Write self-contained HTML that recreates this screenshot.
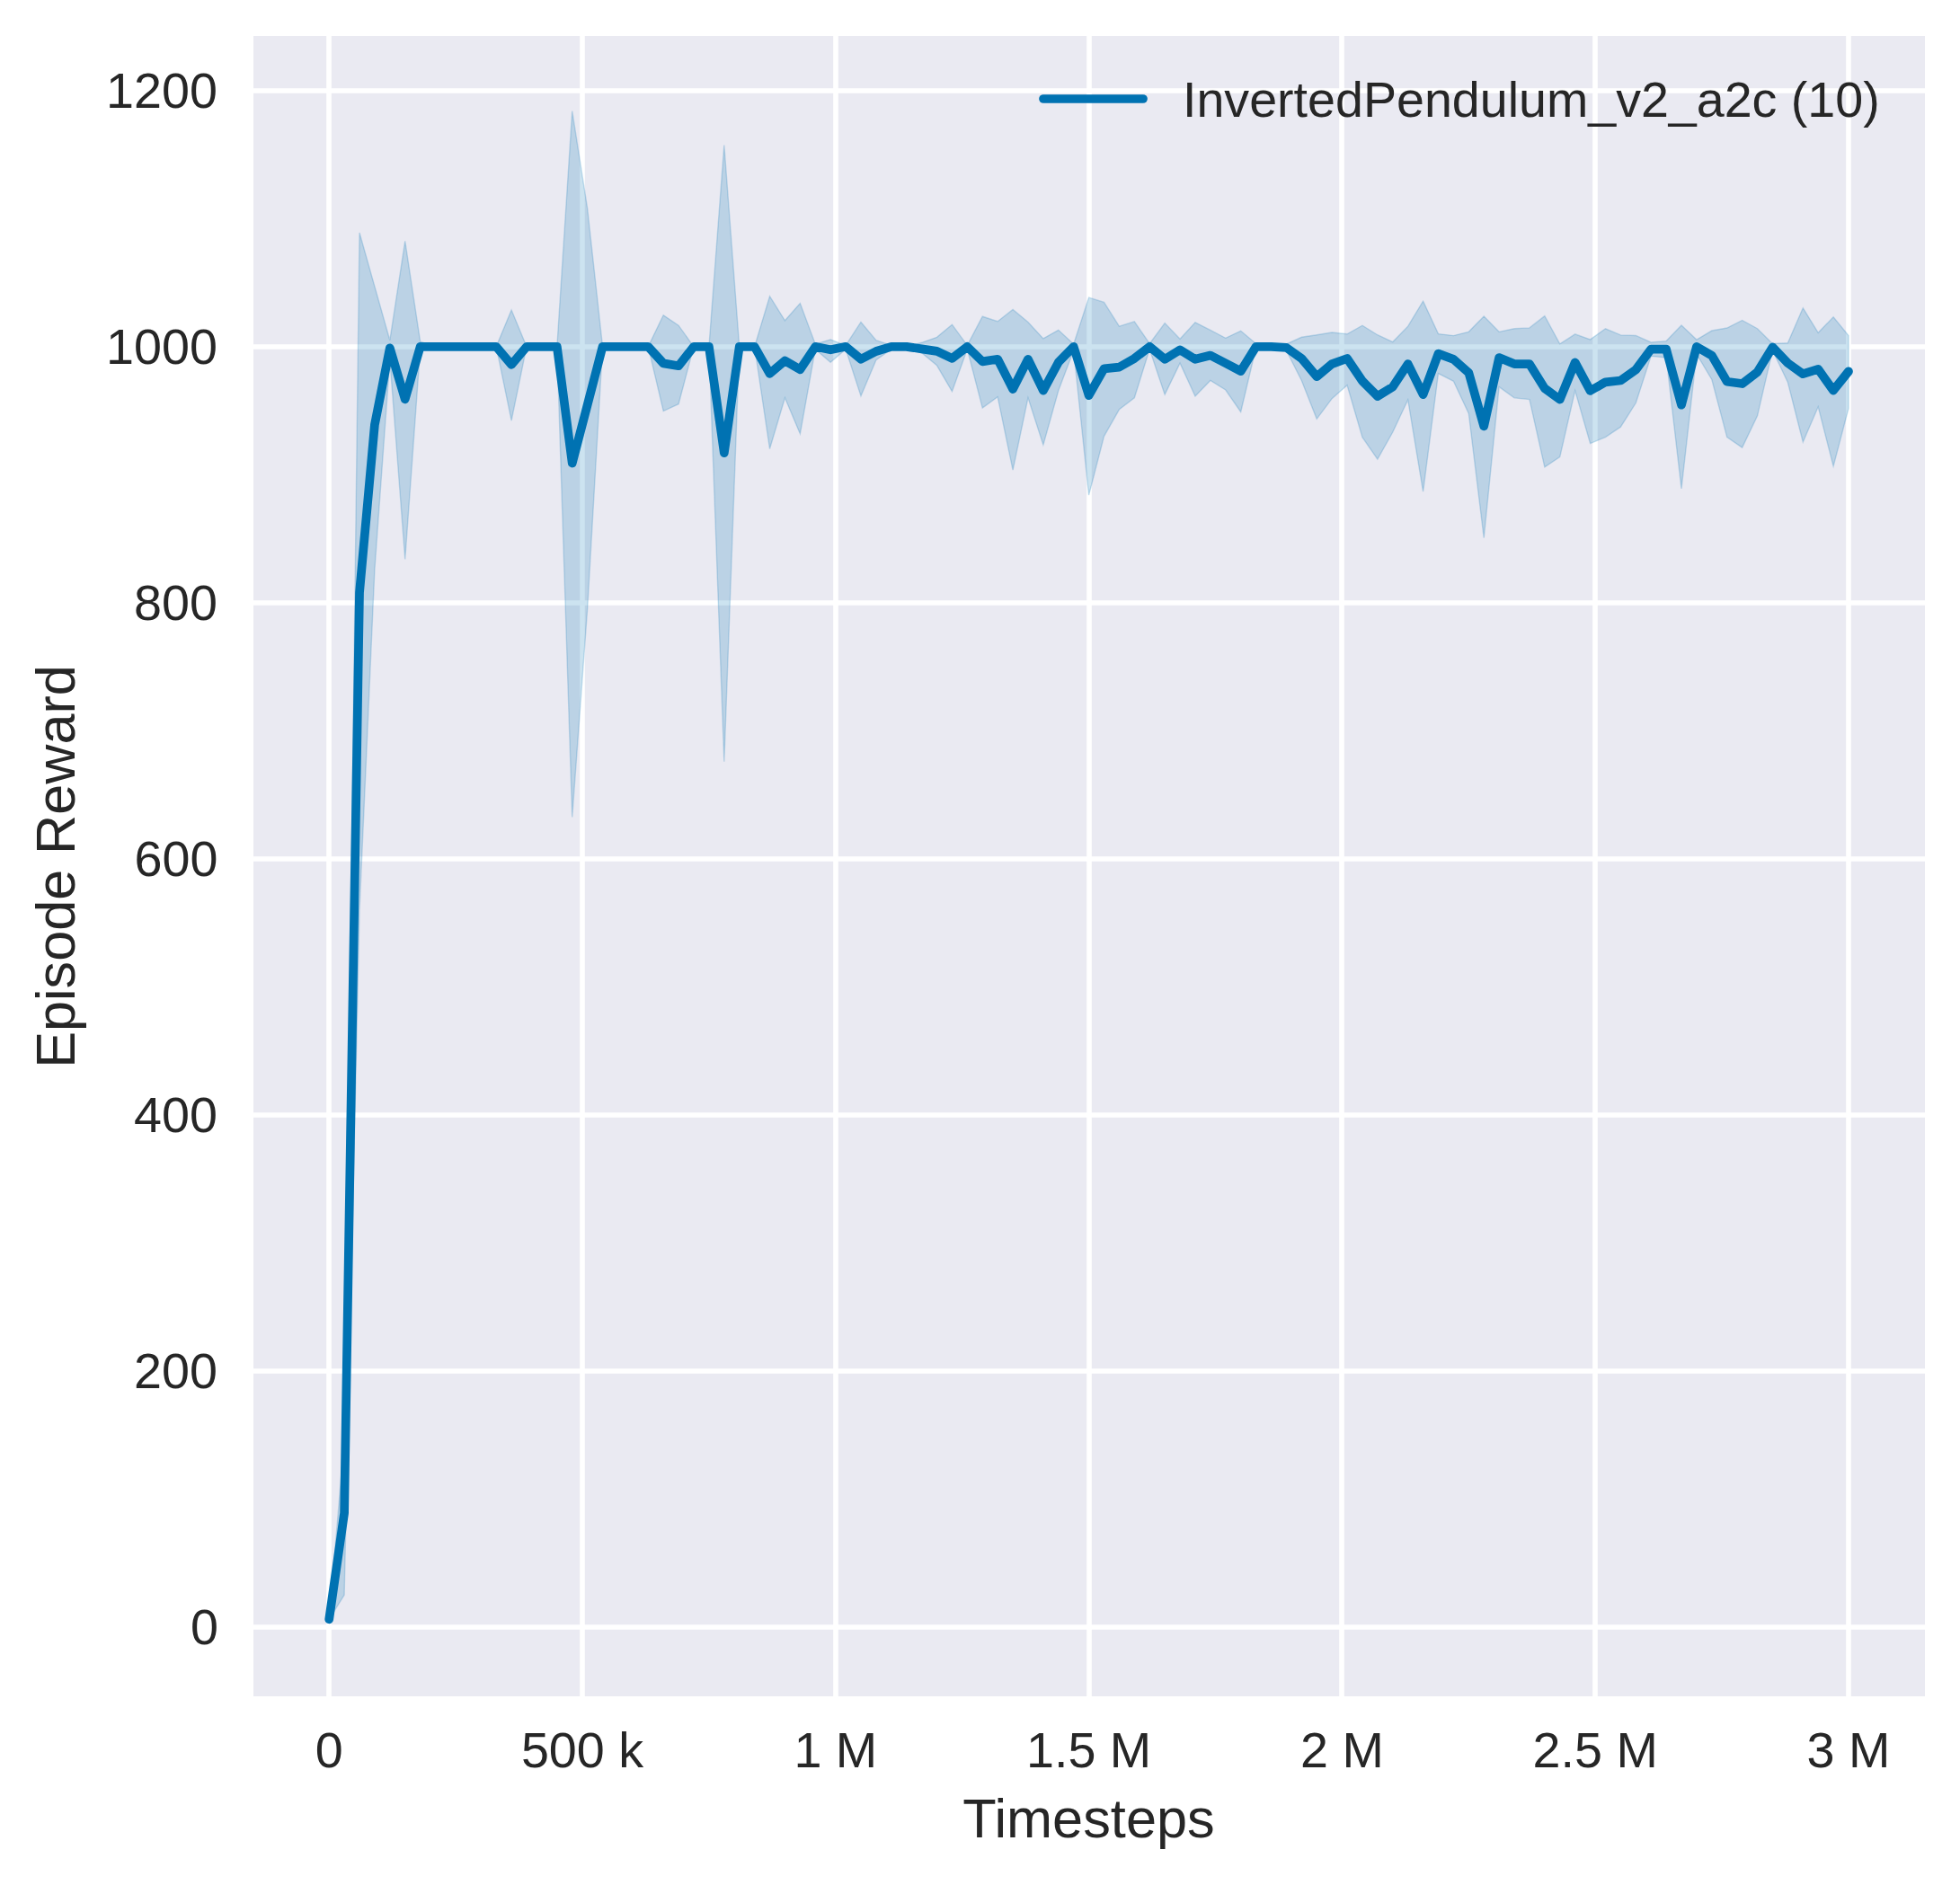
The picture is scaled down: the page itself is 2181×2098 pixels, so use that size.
<!DOCTYPE html>
<html><head><meta charset="utf-8"><style>
html,body{margin:0;padding:0;background:#fff;}
svg{display:block;}
text{font-family:"Liberation Sans",sans-serif;}
</style></head><body>
<svg width="2181" height="2098" viewBox="0 0 2181 2098">
<rect width="2181" height="2098" fill="#fff"/>
<rect x="282" y="40" width="1860" height="1848" fill="#EAEAF2"/>
<path d="M366 40V1888M648 40V1888M930 40V1888M1212 40V1888M1493 40V1888M1775 40V1888M2057 40V1888M282 1811H2142M282 1526H2142M282 1241H2142M282 956H2142M282 671H2142M282 386H2142M282 101H2142" stroke="#fff" stroke-width="5.56" fill="none"/>
<path d="M366.2 1802.3 L383.11 1602.8 L400.02 259.02 L416.92 318.87 L433.83 378.72 L450.74 268.29 L467.65 380.15 L484.56 385.85 L501.46 385.85 L518.37 385.85 L535.28 385.85 L552.19 385.85 L569.1 345.1 L586 385.85 L602.91 385.85 L619.82 385.85 L636.73 123.65 L653.64 231.95 L670.54 385.85 L687.45 385.85 L704.36 385.85 L721.27 385.85 L738.18 350.8 L755.08 362.19 L771.99 385.85 L788.9 385.85 L805.81 161.55 L822.72 385.85 L839.62 385.85 L856.53 329.7 L873.44 356.78 L890.35 337.54 L907.26 383 L924.16 377.87 L941.07 384.42 L957.98 358.49 L974.89 378.72 L991.8 384.42 L1008.7 385.85 L1025.61 381.29 L1042.52 375.3 L1059.43 361.2 L1076.34 384.42 L1093.24 352.22 L1110.15 357.78 L1127.06 344.52 L1143.97 358.49 L1160.88 376.87 L1177.78 367.32 L1194.69 383 L1211.6 331.13 L1228.51 336.4 L1245.42 363.19 L1262.32 357.92 L1279.23 382.43 L1296.14 359.63 L1313.05 377.16 L1329.96 358.77 L1346.86 367.47 L1363.77 376.3 L1380.68 368.32 L1397.59 382.43 L1414.5 384.42 L1431.4 383 L1448.31 375.3 L1465.22 372.74 L1482.13 370.03 L1499.04 371.74 L1515.94 362.19 L1532.85 372.74 L1549.76 380.58 L1566.67 363.19 L1583.58 335.12 L1600.48 371.6 L1617.39 373.59 L1634.3 369.32 L1651.21 352.08 L1668.12 369.32 L1685.02 365.76 L1701.93 364.9 L1718.84 351.65 L1735.75 382.86 L1752.66 371.88 L1769.56 377.87 L1786.47 365.76 L1803.38 372.88 L1820.29 373.45 L1837.2 381 L1854.1 379.58 L1871.01 361.91 L1887.92 378.01 L1904.83 368.04 L1921.74 365.04 L1938.64 356.49 L1955.55 365.76 L1972.46 382.57 L1989.37 381.72 L2006.28 342.81 L2023.18 370.32 L2040.09 352.79 L2057 373.45 L2057 454.53 L2040.09 518.94 L2023.18 452.82 L2006.28 492.01 L1989.37 425.46 L1972.46 390.12 L1955.55 462.8 L1938.64 498.14 L1921.74 486.6 L1904.83 422.47 L1887.92 394.11 L1871.01 544.02 L1854.1 397.96 L1837.2 396.39 L1820.29 448.55 L1803.38 475.2 L1786.47 486.6 L1769.56 493.58 L1752.66 434.87 L1735.75 508.54 L1718.84 519.94 L1701.93 444.56 L1685.02 442.85 L1668.12 430.59 L1651.21 598.74 L1634.3 460.23 L1617.39 424.32 L1600.48 415.63 L1583.58 547.16 L1566.67 444.99 L1549.76 481.04 L1532.85 511.11 L1515.94 486.6 L1499.04 428.74 L1482.13 443.7 L1465.22 466.36 L1448.31 423.47 L1431.4 390.12 L1414.5 385.85 L1397.59 387.27 L1380.68 458.52 L1363.77 434.01 L1346.86 423.47 L1329.96 441 L1313.05 404.23 L1296.14 439.14 L1279.23 388.7 L1262.32 442.71 L1245.42 455.82 L1228.51 485.6 L1211.6 551.15 L1194.69 390.12 L1177.78 434.73 L1160.88 495.15 L1143.97 442.71 L1127.06 523.22 L1110.15 441.71 L1093.24 454.11 L1076.34 388.7 L1059.43 435.72 L1042.52 406.8 L1025.61 392.69 L1008.7 385.85 L991.8 388.7 L974.89 400.67 L957.98 440.85 L941.07 388.7 L924.16 403.23 L907.26 388.7 L890.35 482.89 L873.44 442.71 L856.53 499.56 L839.62 385.85 L822.72 385.85 L805.81 847.69 L788.9 385.85 L771.99 385.85 L755.08 449.69 L738.18 457.53 L721.27 385.85 L704.36 385.85 L687.45 385.85 L670.54 385.85 L653.64 677.97 L636.73 909.54 L619.82 385.85 L602.91 385.85 L586 385.85 L569.1 468.07 L552.19 385.85 L535.28 385.85 L518.37 385.85 L501.46 385.85 L484.56 385.85 L467.65 388.7 L450.74 622.4 L433.83 400.1 L416.92 633.8 L400.02 1012.85 L383.11 1775.22 L366.2 1802.3Z" fill="#0072B2" fill-opacity="0.2" stroke="#0072B2" stroke-opacity="0.2" stroke-width="1.4" stroke-linejoin="miter"/>
<path d="M366.2 1802.3 L383.11 1684.02 L400.02 659.45 L416.92 472.77 L433.83 387.27 L450.74 444.27 L467.65 385.85 L484.56 385.85 L501.46 385.85 L518.37 385.85 L535.28 385.85 L552.19 385.85 L569.1 405.8 L586 385.85 L602.91 385.85 L619.82 385.85 L636.73 515.52 L653.64 450.69 L670.54 385.85 L687.45 385.85 L704.36 385.85 L721.27 385.85 L738.18 404.37 L755.08 407.22 L771.99 385.85 L788.9 385.85 L805.81 504.12 L822.72 385.85 L839.62 385.85 L856.53 415.77 L873.44 401.52 L890.35 411.21 L907.26 385.85 L924.16 389.27 L941.07 385.85 L957.98 399.81 L974.89 390.98 L991.8 385.85 L1008.7 385.85 L1025.61 388.41 L1042.52 390.84 L1059.43 398.82 L1076.34 385.85 L1093.24 402.38 L1110.15 399.81 L1127.06 433.02 L1143.97 399.81 L1160.88 434.73 L1177.78 403.23 L1194.69 385.85 L1211.6 440.14 L1228.51 410.36 L1245.42 408.65 L1262.32 398.96 L1279.23 385.85 L1296.14 399.81 L1313.05 389.41 L1329.96 399.81 L1346.86 395.54 L1363.77 404.23 L1380.68 413.07 L1397.59 385.85 L1414.5 385.85 L1431.4 386.85 L1448.31 398.96 L1465.22 419.19 L1482.13 405.09 L1499.04 398.96 L1515.94 424.04 L1532.85 441 L1549.76 430.59 L1566.67 405.09 L1583.58 439.14 L1600.48 393.69 L1617.39 399.81 L1634.3 414.78 L1651.21 474.34 L1668.12 398.1 L1685.02 405.09 L1701.93 405.09 L1718.84 432.3 L1735.75 444.56 L1752.66 403.38 L1769.56 434.87 L1786.47 425.32 L1803.38 423.47 L1820.29 411.5 L1837.2 388.7 L1854.1 388.7 L1871.01 450.69 L1887.92 385.85 L1904.83 395.68 L1921.74 424.75 L1938.64 427.03 L1955.55 414.06 L1972.46 386.42 L1989.37 404.09 L2006.28 416.2 L2023.18 410.93 L2040.09 434.59 L2057 413.35" fill="none" stroke="#0072B2" stroke-width="9.72" stroke-linecap="round" stroke-linejoin="round"/>
<path d="M1161 110H1272" stroke="#0072B2" stroke-width="9.72" stroke-linecap="round"/>
<text x="1316" y="130.4" font-size="55.6" fill="#262626">InvertedPendulum_v2_a2c (10)</text>
<text x="243" y="1830.15" font-size="55.7" fill="#262626" text-anchor="end">0</text>
<text x="242" y="1545.15" font-size="55.7" fill="#262626" text-anchor="end">200</text>
<text x="242" y="1260.15" font-size="55.7" fill="#262626" text-anchor="end">400</text>
<text x="242.5" y="975.15" font-size="55.7" fill="#262626" text-anchor="end">600</text>
<text x="242" y="690.15" font-size="55.7" fill="#262626" text-anchor="end">800</text>
<text x="242" y="405.15" font-size="55.7" fill="#262626" text-anchor="end">1000</text>
<text x="242" y="120.15" font-size="55.7" fill="#262626" text-anchor="end">1200</text>
<text x="366.2" y="1967" font-size="55.7" fill="#262626" text-anchor="middle">0</text>
<text x="648" y="1967" font-size="55.7" fill="#262626" text-anchor="middle">500 k</text>
<text x="929.8" y="1967" font-size="55.7" fill="#262626" text-anchor="middle">1 M</text>
<text x="1211.6" y="1967" font-size="55.7" fill="#262626" text-anchor="middle">1.5 M</text>
<text x="1493.4" y="1967" font-size="55.7" fill="#262626" text-anchor="middle">2 M</text>
<text x="1775.2" y="1967" font-size="55.7" fill="#262626" text-anchor="middle">2.5 M</text>
<text x="2057" y="1967" font-size="55.7" fill="#262626" text-anchor="middle">3 M</text>
<text x="1211.5" y="2044.6" font-size="61.3" fill="#262626" text-anchor="middle">Timesteps</text>
<text transform="translate(83 964.5) rotate(-90)" x="0" y="0" font-size="61.15" fill="#262626" text-anchor="middle">Episode Reward</text>
</svg>
</body></html>
